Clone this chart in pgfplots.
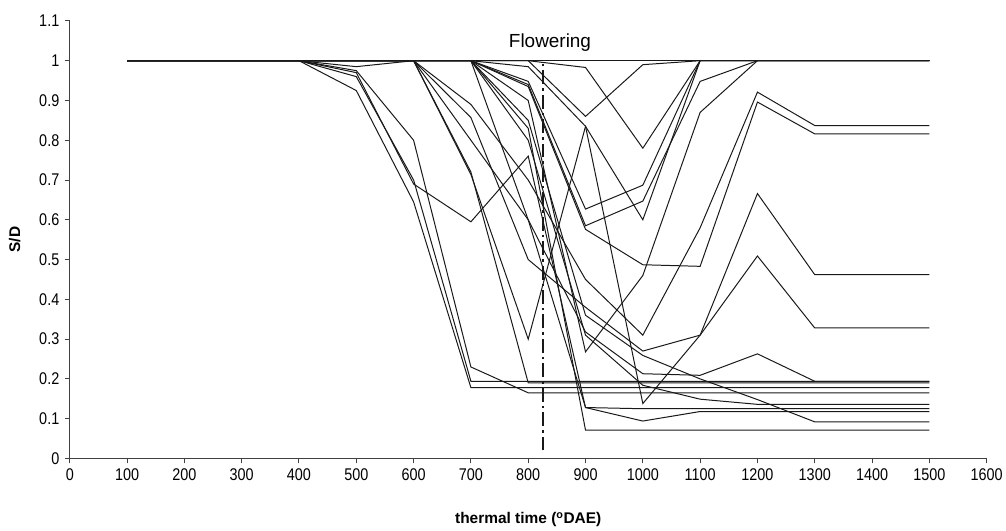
\documentclass[border=0pt]{standalone}
\usepackage{fontspec}
\setmainfont{Liberation Sans}
\newfontfamily\tickfont[FakeStretch=0.85]{Liberation Sans}
\usepackage{pgfplots}
\pgfplotsset{compat=1.18}
\usetikzlibrary{calc}

\pgfplotsset{pl/.style={black!90, line width=1pt, mark=none}}

\begin{document}
\begin{tikzpicture}
\begin{axis}[
  scale only axis, width=920pt, height=439pt,
  xmin=0, xmax=1600, ymin=0, ymax=1.1,
  axis x line=bottom, axis y line=left,
  axis line style={-, line width=1pt, black!75},
  xtick={0,100,...,1600},
  ytick={0,0.1,0.2,0.3,0.4,0.5,0.6,0.7,0.8,0.9,1,1.1},
  scaled ticks=false,
  tick align=outside, major tick length=5pt,
  tick style={black!75, line width=1pt},
  ticklabel style={font=\tickfont\fontsize{17}{17}\selectfont},
  xticklabel style={yshift=-2pt},
  yticklabel style={xshift=-2pt},
  /pgf/number format/assume math mode=true,
  /pgf/number format/1000 sep={},
  xlabel={thermal time (\textsuperscript{o}DAE)},
  ylabel={S/D},
  xlabel style={font=\bfseries\fontsize{15.5}{15.5}\selectfont, at={(axis description cs:0.5,-0.14)}, anchor=center},
  ylabel style={font=\bfseries\fontsize{15.5}{15.5}\selectfont, at={(axis description cs:-0.06,0.5)}, anchor=center},
  clip=false,
]
% stays at 1
\addplot[pl] coordinates {(100,1) (1500,1)};
% late group, back to 1
\addplot[pl] coordinates {(100,1) (800,1) (900,0.86) (1000,0.99) (1100,1) (1500,1)};
\addplot[pl] coordinates {(100,1) (800,1) (900,0.983) (1000,0.78) (1100,1) (1500,1)};
\addplot[pl] coordinates {(100,1) (700,1) (800,0.948) (900,0.627) (1000,0.687) (1100,1) (1500,1)};
\addplot[pl] coordinates {(100,1) (700,1) (800,0.94) (900,0.585) (1000,0.647) (1100,0.948) (1200,1) (1500,1)};
\addplot[pl] coordinates {(100,1) (700,1) (800,0.935) (900,0.576) (1000,0.487) (1100,0.483) (1200,0.896) (1300,0.816) (1500,0.816)};
\addplot[pl] coordinates {(100,1) (600,1) (700,0.714) (800,0.30) (900,0.835) (1000,0.60) (1100,1) (1500,1)};
\addplot[pl] coordinates {(100,1) (700,1) (800,0.985) (900,0.835) (1000,0.138) (1100,0.31) (1200,0.666) (1300,0.462) (1500,0.462)};
\addplot[pl] coordinates {(100,1) (400,1) (500,0.985) (600,1) (700,0.89) (800,0.70) (900,0.45) (1000,0.31) (1100,0.58) (1200,0.921) (1300,0.837) (1500,0.837)};
\addplot[pl] coordinates {(100,1) (600,1) (700,0.857) (800,0.50) (900,0.38) (1000,0.27) (1100,0.31) (1200,0.509) (1300,0.328) (1500,0.328)};
\addplot[pl] coordinates {(100,1) (700,1) (800,0.85) (900,0.36) (1000,0.259) (1100,0.20) (1200,0.148) (1300,0.092) (1500,0.092)};
\addplot[pl] coordinates {(100,1) (600,1) (700,0.80) (800,0.60) (900,0.318) (1000,0.213) (1100,0.209) (1200,0.263) (1300,0.194) (1500,0.194)};
\addplot[pl] coordinates {(100,1) (700,1) (800,0.90) (900,0.268) (1000,0.46) (1100,0.87) (1200,1) (1500,1)};
\addplot[pl] coordinates {(100,1) (700,1) (800,0.80) (900,0.31) (1000,0.184) (1100,0.149) (1200,0.136) (1500,0.136)};
\addplot[pl] coordinates {(100,1) (700,1) (800,0.60) (900,0.128) (1000,0.125) (1500,0.125)};
\addplot[pl] coordinates {(100,1) (700,1) (800,0.83) (900,0.071) (1500,0.071)};
% early group
\addplot[pl] coordinates {(100,1) (400,1) (500,0.925) (600,0.645) (700,0.178) (1500,0.178)};
\addplot[pl] coordinates {(100,1) (400,1) (500,0.97) (600,0.69) (700,0.595) (800,0.76) (900,0.128) (1000,0.094) (1100,0.118) (1500,0.118)};
\addplot[pl] coordinates {(100,1) (400,1) (500,0.975) (600,0.80) (700,0.23) (800,0.165) (1500,0.165)};
\addplot[pl] coordinates {(100,1) (400,1) (500,0.96) (600,0.70) (700,0.194) (1500,0.194)};
\addplot[pl] coordinates {(100,1) (600,1) (700,0.72) (800,0.19) (1500,0.19)};
% flowering marker
\addplot[black!90, line width=2pt, dash pattern=on 14pt off 4pt on 2.5pt off 4pt] coordinates {(825,0.02) (825,1)};
\node[font=\fontsize{19}{19}\selectfont, anchor=base] at (axis cs:838,1.033) {Flowering};
\end{axis}
\path ($(current axis.south west)+(-70pt,-72pt)$) rectangle ($(current axis.north east)+(16pt,21pt)$);
\end{tikzpicture}
\end{document}
